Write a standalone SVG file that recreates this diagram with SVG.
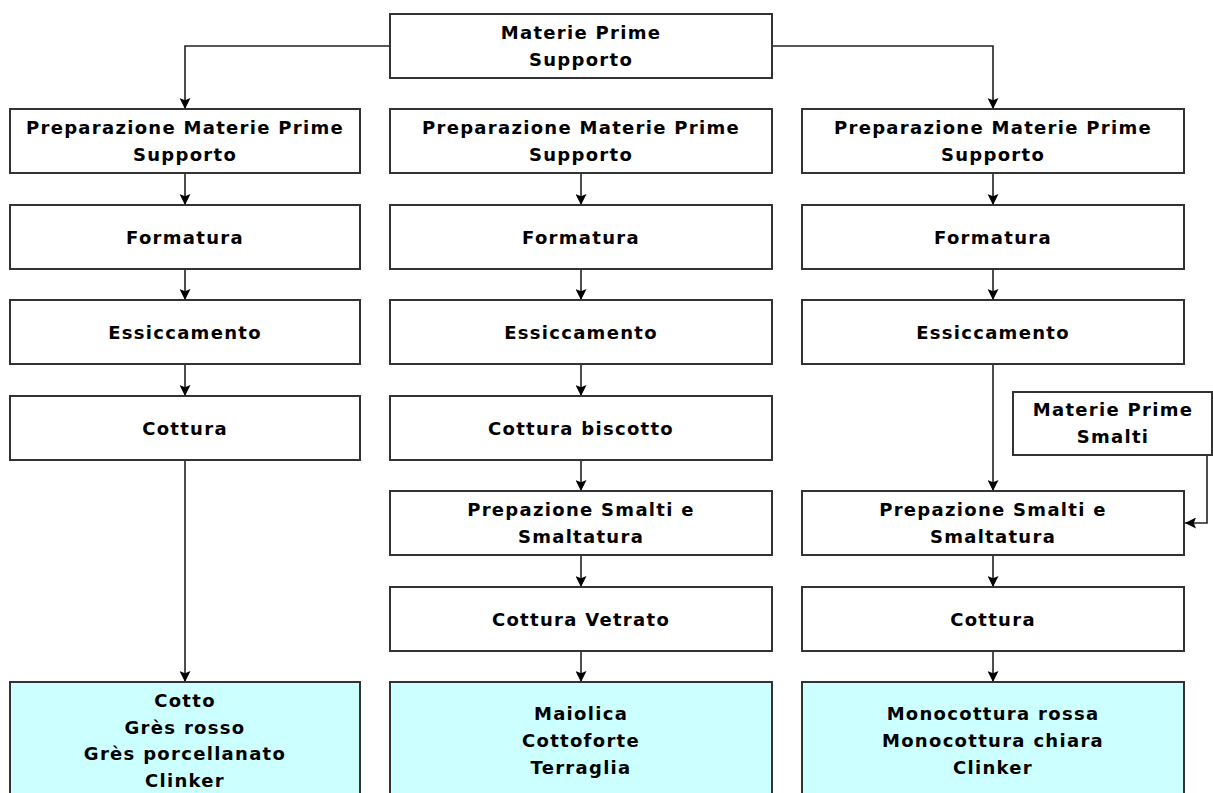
<svg xmlns="http://www.w3.org/2000/svg" width="1213" height="793" viewBox="0 0 1213 793">
<style>
.box{fill:#fff;stroke:#333;stroke-width:2}
.fin{fill:#ccffff;stroke:#333;stroke-width:2}
.t{font-family:"DejaVu Sans","Verdana",sans-serif;font-weight:bold;font-size:18px;letter-spacing:1.3px;fill:#000;text-anchor:middle}
.c{fill:none;stroke:#222;stroke-width:1.6;marker-end:url(#ah)}
</style>
<defs>
<marker id="ah" viewBox="0 0 10 10" refX="10" refY="5" markerWidth="11" markerHeight="11" markerUnits="userSpaceOnUse" orient="auto">
<path d="M0,0 L10,5 L0,10 L2,5 z" fill="#000"/>
</marker>
</defs>
<rect width="1213" height="793" fill="#fff"/>
<g id="connectors">
<path class="c" d="M390,46 H185 V109"/>
<path class="c" d="M772,46 H993 V109"/>
<path class="c" d="M185,173 V205"/>
<path class="c" d="M185,269 V300"/>
<path class="c" d="M185,364 V396"/>
<path class="c" d="M185,460 V682"/>
<path class="c" d="M581,173 V205"/>
<path class="c" d="M581,269 V300"/>
<path class="c" d="M581,364 V396"/>
<path class="c" d="M581,460 V491"/>
<path class="c" d="M581,555 V587"/>
<path class="c" d="M581,651 V682"/>
<path class="c" d="M993,173 V205"/>
<path class="c" d="M993,269 V300"/>
<path class="c" d="M993,364 V491"/>
<path class="c" d="M993,555 V587"/>
<path class="c" d="M993,651 V682"/>
<path class="c" d="M1207,455 V523 H1185"/>
</g>
<g id="n-top"><rect class="box" x="390" y="14" width="382" height="64"/><text class="t" x="581" y="39">Materie Prime</text><text class="t" x="581" y="66">Supporto</text></g>

<g id="n-c1-prep"><rect class="box" x="10" y="109" width="350" height="64"/><text class="t" x="185" y="134">Preparazione Materie Prime</text><text class="t" x="185" y="161">Supporto</text></g>
<g id="n-c1-form"><rect class="box" x="10" y="205" width="350" height="64"/><text class="t" x="185" y="244">Formatura</text></g>
<g id="n-c1-ess"><rect class="box" x="10" y="300" width="350" height="64"/><text class="t" x="185" y="339">Essiccamento</text></g>
<g id="n-c1-cot"><rect class="box" x="10" y="396" width="350" height="64"/><text class="t" x="185" y="435">Cottura</text></g>
<g id="n-c1-fin"><rect class="fin" x="10" y="682" width="350" height="130"/><text class="t" x="185" y="707">Cotto</text><text class="t" x="185" y="734">Grès rosso</text><text class="t" x="185" y="760">Grès porcellanato</text><text class="t" x="185" y="787">Clinker</text></g>

<g id="n-c2-prep"><rect class="box" x="390" y="109" width="382" height="64"/><text class="t" x="581" y="134">Preparazione Materie Prime</text><text class="t" x="581" y="161">Supporto</text></g>
<g id="n-c2-form"><rect class="box" x="390" y="205" width="382" height="64"/><text class="t" x="581" y="244">Formatura</text></g>
<g id="n-c2-ess"><rect class="box" x="390" y="300" width="382" height="64"/><text class="t" x="581" y="339">Essiccamento</text></g>
<g id="n-c2-cot"><rect class="box" x="390" y="396" width="382" height="64"/><text class="t" x="581" y="435">Cottura biscotto</text></g>
<g id="n-c2-smal"><rect class="box" x="390" y="491" width="382" height="64"/><text class="t" x="581" y="516">Prepazione Smalti e</text><text class="t" x="581" y="543">Smaltatura</text></g>
<g id="n-c2-vet"><rect class="box" x="390" y="587" width="382" height="64"/><text class="t" x="581" y="626">Cottura Vetrato</text></g>
<g id="n-c2-fin"><rect class="fin" x="390" y="682" width="382" height="130"/><text class="t" x="581" y="720">Maiolica</text><text class="t" x="581" y="747">Cottoforte</text><text class="t" x="581" y="774">Terraglia</text></g>

<g id="n-c3-prep"><rect class="box" x="802" y="109" width="382" height="64"/><text class="t" x="993" y="134">Preparazione Materie Prime</text><text class="t" x="993" y="161">Supporto</text></g>
<g id="n-c3-form"><rect class="box" x="802" y="205" width="382" height="64"/><text class="t" x="993" y="244">Formatura</text></g>
<g id="n-c3-ess"><rect class="box" x="802" y="300" width="382" height="64"/><text class="t" x="993" y="339">Essiccamento</text></g>
<g id="n-c3-mps"><rect class="box" x="1013" y="392" width="199" height="63"/><text class="t" x="1113" y="416">Materie Prime</text><text class="t" x="1113" y="443">Smalti</text></g>
<g id="n-c3-smal"><rect class="box" x="802" y="491" width="382" height="64"/><text class="t" x="993" y="516">Prepazione Smalti e</text><text class="t" x="993" y="543">Smaltatura</text></g>
<g id="n-c3-cot"><rect class="box" x="802" y="587" width="382" height="64"/><text class="t" x="993" y="626">Cottura</text></g>
<g id="n-c3-fin"><rect class="fin" x="802" y="682" width="382" height="130"/><text class="t" x="993" y="720">Monocottura rossa</text><text class="t" x="993" y="747">Monocottura chiara</text><text class="t" x="993" y="774">Clinker</text></g>
</svg>
